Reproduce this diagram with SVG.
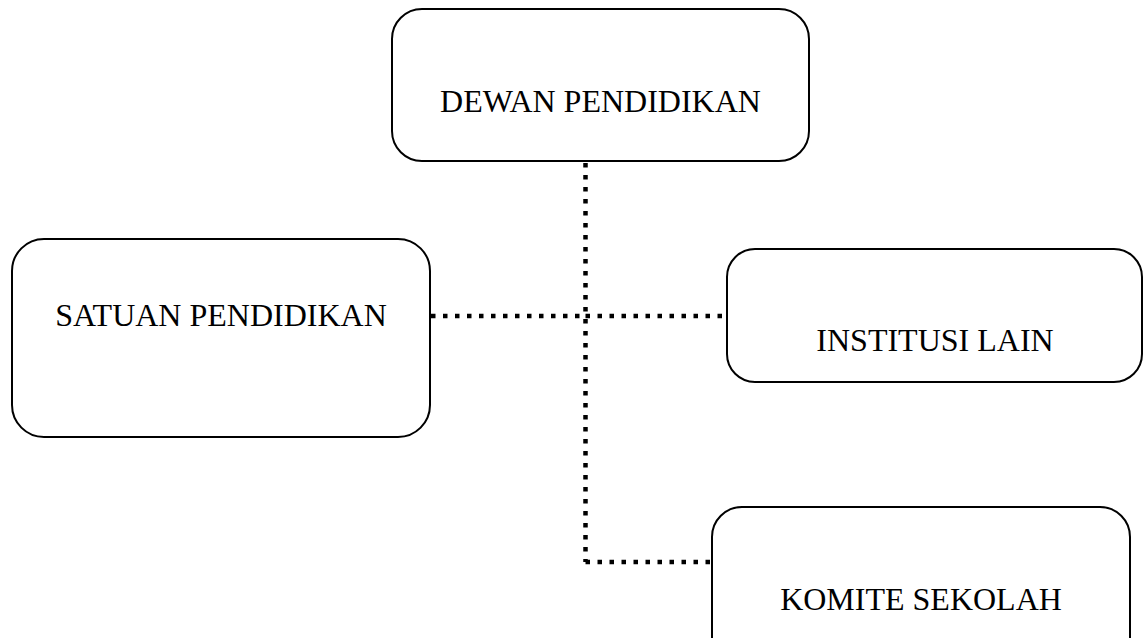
<svg xmlns="http://www.w3.org/2000/svg" width="1144" height="638" viewBox="0 0 1144 638">
  <style>
    .box { fill: #ffffff; stroke: #000000; stroke-width: 2; }
    .label { font-family: "Liberation Serif", "Times New Roman", serif; font-size: 32px; fill: #000000; text-anchor: middle; }
    .dotted { fill: none; stroke: #000000; stroke-width: 4.5; stroke-dasharray: 4.5 7.5; }
  </style>
  <rect width="1144" height="638" fill="#ffffff"/>

  <!-- dotted connectors -->
  <g id="connectors">
    <path class="dotted" d="M585.5 163 L585.5 562"/>
    <path class="dotted" d="M431 316 L585.5 316"/>
    <path class="dotted" d="M585.5 316 L726 316"/>
    <path class="dotted" d="M585.5 562 L711 562"/>
  </g>

  <g id="dewan-pendidikan">
    <rect class="box" x="392" y="9" width="417" height="152" rx="30" ry="30"/>
    <text class="label" x="600.5" y="112">DEWAN PENDIDIKAN</text>
  </g>

  <g id="satuan-pendidikan">
    <rect class="box" x="12" y="239" width="418" height="198" rx="32" ry="32"/>
    <text class="label" x="221" y="326">SATUAN PENDIDIKAN</text>
  </g>

  <g id="institusi-lain">
    <rect class="box" x="727" y="249" width="415" height="133" rx="28" ry="28"/>
    <text class="label" x="935" y="351">INSTITUSI LAIN</text>
  </g>

  <g id="komite-sekolah">
    <rect class="box" x="712" y="507" width="418" height="160" rx="30" ry="30"/>
    <text class="label" x="921" y="610">KOMITE SEKOLAH</text>
  </g>
</svg>
